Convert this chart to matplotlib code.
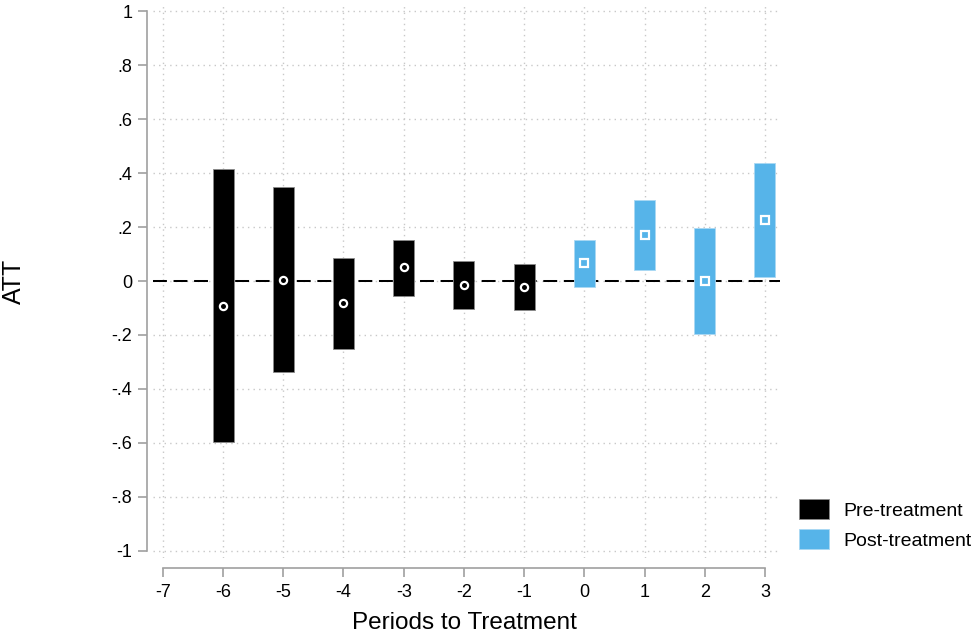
import matplotlib
matplotlib.use("Agg")
import matplotlib.pyplot as plt
from matplotlib.patches import Patch

plt.rcParams["font.family"] = ["Liberation Sans", "DejaVu Sans"]
plt.rcParams["axes.unicode_minus"] = False

# Event-study estimates: periods relative to treatment, ATT and 95% CI
pre_periods = [-6, -5, -4, -3, -2, -1]
pre_att = [-0.092, 0.005, -0.083, 0.052, -0.015, -0.022]
pre_lo = [-0.598, -0.339, -0.253, -0.056, -0.104, -0.108]
pre_hi = [0.417, 0.348, 0.085, 0.152, 0.074, 0.063]

post_periods = [0, 1, 2, 3]
post_att = [0.066, 0.171, 0.000, 0.226]
post_lo = [-0.021, 0.040, -0.195, 0.015]
post_hi = [0.153, 0.302, 0.196, 0.438]

x_ticks = list(range(-7, 4))
y_ticks = [1, 0.8, 0.6, 0.4, 0.2, 0, -0.2, -0.4, -0.6, -0.8, -1]
y_tick_labels = ["1", ".8", ".6", ".4", ".2", "0", "-.2", "-.4", "-.6", "-.8", "-1"]

pre_color = "#000000"
post_color = "#56B4E9"

fig = plt.figure(figsize=(9.71, 6.35), dpi=100)
W, H = 971, 635
ax = fig.add_axes([153 / W, (H - 558) / H, (780 - 153) / W, (558 - 4) / H])

ax.set_xlim(-7.164, 3.25)
ax.set_ylim(-1.027, 1.027)

# grid
ax.set_xticks(x_ticks)
ax.set_yticks(y_ticks)
ax.set_yticklabels(y_tick_labels)
ax.grid(True, which="major", linestyle=(0, (1, 3)), color="#c8c8c8", linewidth=1.0)
ax.set_axisbelow(True)

# zero reference line
ax.axhline(0, color="black", linewidth=1.45, linestyle=(0, (6.9, 3.3)), zorder=2)

bar_w = 0.35
ax.bar(pre_periods, [h - l for h, l in zip(pre_hi, pre_lo)], bottom=pre_lo,
       width=bar_w, color=pre_color, edgecolor="#8a8a8a", linewidth=0.6, zorder=3)
ax.bar(post_periods, [h - l for h, l in zip(post_hi, post_lo)], bottom=post_lo,
       width=bar_w, color=post_color, edgecolor="#a9d8f3", linewidth=0.6, zorder=3)

ax.plot(pre_periods, pre_att, linestyle="none", marker="o", markersize=5.2,
        markerfacecolor="none", markeredgecolor="white", markeredgewidth=1.6, zorder=4)
ax.plot(post_periods, post_att, linestyle="none", marker="s", markersize=5.2,
        markerfacecolor="none", markeredgecolor="white", markeredgewidth=1.6, zorder=4)

# axes styling
for side in ("top", "right"):
    ax.spines[side].set_visible(False)
ax.spines["left"].set_position(("outward", 4.1))
ax.spines["bottom"].set_position(("outward", 7.0))
ax.spines["left"].set_bounds(-1, 1)
ax.spines["bottom"].set_bounds(-7, 3)
for side in ("left", "bottom"):
    ax.spines[side].set_color("#a0a0a0")
    ax.spines[side].set_linewidth(1.2)
ax.tick_params(axis="both", colors="#a0a0a0", length=6.7, width=1.2,
               labelcolor="black", labelsize=13)
ax.tick_params(axis="y", pad=4)
ax.tick_params(axis="x", pad=5)

ax.set_xlabel("Periods to Treatment", fontsize=17.5)
ax.xaxis.set_label_coords(0.496, -0.0975)
ax.xaxis.label.set_va("top")
ax.set_ylabel("ATT", fontsize=18)
ax.yaxis.set_label_coords((26 - 153) / 627, 0.5)

handles = [Patch(facecolor=pre_color, edgecolor="#8a8a8a", linewidth=0.6),
           Patch(facecolor=post_color, edgecolor="#a9d8f3", linewidth=0.6)]
fig.legend(handles, ["Pre-treatment", "Post-treatment"],
           loc="upper left", bbox_to_anchor=(799 / W, 1 - 499 / H),
           frameon=False, fontsize=14, handlelength=1.55, handleheight=1.2,
           handletextpad=0.75, labelspacing=0.5, borderpad=0.0, borderaxespad=0.0)

fig.savefig("out.png", dpi=100)
